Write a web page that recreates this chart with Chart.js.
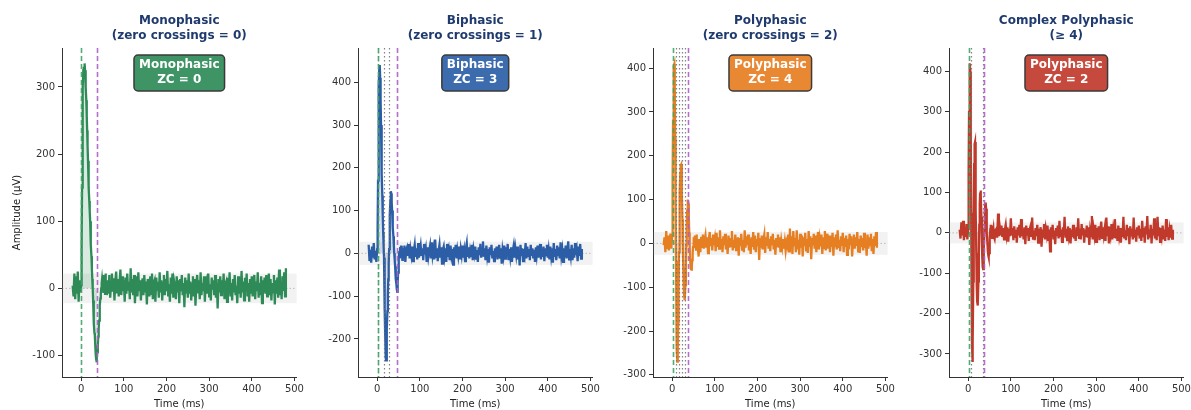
<!DOCTYPE html>
<html>
<head>
<meta charset="utf-8">
<script src="https://cdn.jsdelivr.net/npm/chart.js@4.4.0/dist/chart.umd.min.js"></script>
<style>
	html, body { margin: 0; padding: 0; background: #fff; width: 1191px; height: 410px; overflow: hidden; }
	.panel { position: absolute; top: 0; width: 306px; height: 410px; }
</style>
</head>
<body>
<div class="panel" style="left:0px"><canvas id="c0" width="306" height="410"></canvas></div>
<div class="panel" style="left:296px"><canvas id="c1" width="306" height="410"></canvas></div>
<div class="panel" style="left:591px"><canvas id="c2" width="306" height="410"></canvas></div>
<div class="panel" style="left:887px"><canvas id="c3" width="306" height="410"></canvas></div>
<script>
// titles and annotation text
const titles = [
	['Monophasic', '(zero crossings = 0)'],
	['Biphasic', '(zero crossings = 1)'],
	['Polyphasic', '(zero crossings = 2)'],
	['Complex Polyphasic', '(\u2265 4)'],
]
const boxLabels = ['Monophasic', 'Biphasic', 'Polyphasic', 'Polyphasic']
const zcCounts = [0, 3, 4, 2]

// tick labels
const xTicks = [0, 100, 200, 300, 400, 500]
const yTicks = [
	[-100, 0, 100, 200, 300],
	[-200, -100, 0, 100, 200, 300, 400],
	[-300, -200, -100, 0, 100, 200, 300, 400],
	[-300, -200, -100, 0, 100, 200, 300, 400],
]

// MUAP onset / end and zero-crossing markers (ms), noise threshold (uV)
const onsets = [0, 2, 3, 2]
const ends = [38, 46, 37, 38]
const zcLines = [[], [3, 16, 28], [8, 16, 23, 31], [7, 34]]
const thresholds = [22, 27, 26, 26]

// amplitude (uV): pre = -20..-2 ms step 2, spike = 0..60 ms step 1, post = 62..480 ms step 2
const monoPre = [4, -12, 22, -16, 18, -8, 25, -20, 12, -6]
const monoSpike = [5, 60, 150, 240, 300, 325, 330, 320, 335, 325, 315, 300, 280, 258, 235, 212, 190, 170, 150, 130, 115, 100, 82, 65, 48, 30, 14, 0, -18, -35, -52, -66, -70, -85, -98, -105, -110, -100, -95, -85, -72, -60, -48, -36, -25, -15, -8, 0, 8, 14, 5, 18, -5, 20, 2, 15, -8, 22, 0, 12, -10]
const monoPost = [
	12, -8, 20, -14, 6, 22, -5, 15, -18, 10, 25, -6, 14, -12, 8, 28, -10, 18, -4, 12, -20,
	16, -8, 22, -2, 10, -16, 30, -6, 14, -10, 20, -22, 8, 18, -12, 24, -4, 12, -18, 6, 15,
	-10, 20, -6, 10, -24, 14, 4, -12, 18, -8, 22, -16, 8, 12, -20, 16, -2, 10, -14, 24, -6,
	12, -18, 8, 20, -10, 14, -4, 26, -12, 6, -20, 16, -8, 22, -14, 10, 2, -16, 18, -6, 12,
	-22, 14, -4, 20, -10, 8, -28, 16, -6, 12, -14, 22, -8, 10, -18, 6, 18, -12, 14, -26, 8,
	20, -6, 12, -16, 24, -10, 8, -4, 18, -20, 10, 14, -8, 22, -12, 6, -18, 16, -2, 12, -10,
	20, -14, 8, -30, 14, -6, 18, -10, 12, -4, 22, -16, 6, 10, -20, 16, -8, 24, -12, 8, -18,
	14, -6, 20, -10, 4, -22, 18, -8, 12, -14, 26, -6, 10, -18, 16, -4, 22, -12, 8, -20, 14,
	-8, 18, -12, 6, 20, -16, 10, -4, 24, -14, 8, -10, 18, -22, 12, -6, 16, -8, 20, -12, 6,
	22, -10, 14, -18, 8, -6, 20, -24, 12, -8, 16, -14, 28, -10, 6, -16, 18, -4, 24, -12, 30,
]

const biPre = [20, -18, 8, -22, 16, -10, 24, -14, 6, -20]
const biSpike = [10, 60, 170, 290, 390, 435, 440, 410, 360, 300, 240, 185, 135, 90, 50, 20, -10, -60, -130, -200, -245, -250, -215, -175, -135, -95, -60, -25, 10, 50, 90, 125, 145, 140, 120, 100, 80, 60, 40, 20, 0, -15, -30, -45, -60, -72, -84, -90, -70, -45, -25, -10, 5, -12, 15, -5, 18, -8, 10, -15, 12]
const biPost = [
	-10, 18, -20, 8, 14, -6, 22, -12, 10, -4, 16, -18, 6, 20, -8, 12, -14, 24, -10, 4, 18,
	-6, 12, -16, 22, -2, 10, -20, 14, -8, 6, 18, -12, 26, -4, 10, -14, 32, -8, 12, -18, 6,
	20, -10, 14, -24, 8, 16, -6, 12, -20, 22, -8, 6, -16, 18, -4, 10, -26, 14, -8, 20, -12,
	8, -6, 16, -14, 10, -4, 18, -10, 6, -18, 12, 24, -8, 14, -12, 6, -6, 20, -16, 10, -2,
	16, -12, 8, -20, 14, -4, 22, -10, 6, 28, -8, 12, -16, 18, -6, 10, -22, 14, -4, 20, -12,
	6, -18, 12, -8, 16, -14, 4, 20, -10, 12, -24, 8, -6, 18, -12, 14, -4, 22, -16, 10, -8,
	14, -20, 6, 18, -10, 12, -4, 16, -14, 8, -28, 20, -6, 12, -18, 10, -2, 24, -12, 16, -8,
	10, -16, 20, -6, 12, -12, 8, -20, 14, -4, 18, -10, 6, 22, -14, 10, -8, 16, -18, 12, -4,
	20, -10, 8, -14, 16, -6, 12, -22, 24, -8, 10, -16, 18, -4, 14, -12, 26, -6, 8, -20, 12,
	-8, 18, -12, 6, 28, -14, 10, -6, 20, -16, 12, -10, 24, -4, 8, -18, 16, -6, 22, -12, 10,
]

const polyPre = [-4, 14, -20, 28, -10, 18, -16, 6, 22, -12]
const polySpike = [20, 150, 280, 370, 405, 410, 360, 240, 100, -40, -160, -240, -270, -250, -180, -100, -20, 50, 115, 160, 178, 180, 165, 115, 55, -5, -55, -95, -118, -130, -125, -95, -50, -5, 40, 75, 95, 100, 90, 60, 25, -10, -35, -50, -58, -60, -52, -38, -22, -8, 5, 14, -6, 18, -2, 12, -14, 20, -4, 10, -8]
const polyPost = [
	-30, 10, -20, 15, -8, 20, -12, 6, 18, -10, 14, -22, 8, 26, -6, 12, -16, 20, -4, 10, -18,
	24, -8, 14, -12, 30, -6, 10, -20, 16, -4, 22, -14, 8, -24, 18, -10, 12, -6, 28, -16, 8,
	-10, 20, -18, 6, 14, -28, 12, -6, 22, -14, 8, -20, 30, -10, 16, -4, 20, -16, 10, -24, 14,
	-8, 26, -12, 18, -20, 10, -6, 24, -38, 12, -10, 18, -14, 8, 20, -22, 14, -6, 26, -12, 10,
	-18, 16, -4, 22, -14, 8, -26, 12, -6, 20, -10, 14, -20, 6, -8, 10, -12, 4, -16, 2, -6,
	20, -18, 34, -10, 16, -24, 28, -6, 12, -20, 30, -14, 8, -26, 22, -10, 18, -30, 14, -6, 24,
	-16, 10, -22, 28, -8, 16, -36, 12, -4, 22, -12, 18, -20, 8, 26, -14, 10, -6, 20, -24, 14,
	-10, 28, -16, 6, 22, -12, 18, -20, 10, -8, 24, -28, 14, -6, 20, -14, 30, -10, 8, -18, 16,
	-6, 24, -20, 12, -8, 18, -26, 10, -14, 22, -4, 16, -30, 8, 20, -12, 14, -6, 26, -18, 10,
	-22, 18, -8, 12, -16, 24, -10, 6, -28, 20, -12, 14, -4, 22, -18, 10, -24, 16, -6, 26, -10,
]

const complexPre = [8, -14, 26, -6, 30, -18, 12, -10, 22, -16]
const complexSpike = [10, 150, 300, 390, 420, 400, 250, 50, -150, -280, -320, -270, -120, 50, 170, 220, 225, 170, 60, -50, -130, -170, -180, -175, -120, -50, 20, 70, 100, 105, 90, 40, -20, -60, -85, -90, -80, -40, 10, 50, 72, 75, 60, 30, 0, -25, -45, -55, -60, -50, -30, -10, 10, 20, -5, 15, -12, 18, 0, 10, -8]
const complexPost = [
	-15, 6, 10, -12, 48, -8, 14, -6, 18, -10, 12, -16, 8, 20, -4, 14, -22, 10, -8, 36, -6,
	12, -18, 16, -10, 8, -24, 14, -6, 20, -12, 34, -8, 10, -16, 14, -28, 18, -4, 12, -20, 8,
	16, -10, 38, -14, 6, -18, 12, -8, 20, -24, 10, -6, 14, -34, 8, -12, 22, -16, 10, -4, 18,
	-20, 8, -46, 14, -10, 20, -16, 6, -28, 12, -8, 18, -14, 30, -10, 8, -22, 14, -6, 40, -12,
	10, -18, 16, -6, 12, -26, 8, -10, 20, -14, 6, -20, 14, -8, 36, -12, 10, -16, 22, -6, 12,
	-24, 8, -10, 18, -12, 14, -30, 6, -8, 42, -16, 10, -6, 20, -22, 12, -10, 16, -18, 8, 28,
	-12, 14, -6, 10, -20, 38, -8, 16, -26, 12, -4, 22, -16, 8, -10, 34, -14, 10, -20, 18, -6,
	12, -24, 8, -10, 40, -14, 6, -18, 20, -8, 12, -28, 16, -6, 10, -16, 38, -12, 8, -22, 14,
	-6, 18, -14, 10, -20, 30, -8, 12, -24, 16, -4, 42, -16, 8, -12, 20, -26, 10, -6, 36, -14,
	10, -18, 40, -8, 14, -22, 12, -6, 18, -16, 8, -20, 34, -10, 14, -18, 6, -12, 20, -14, 8,
]

// sample times matching the three segments above
const times = []
for (let t = -20; t < 0; t += 2) times.push(t)
for (let t = 0; t <= 60; t++) times.push(t)
for (let t = 62; t <= 480; t += 2) times.push(t)

const series = [
	monoPre.concat(monoSpike, monoPost),
	biPre.concat(biSpike, biPost),
	polyPre.concat(polySpike, polyPost),
	complexPre.concat(complexSpike, complexPost),
]

const colors = ['46,139,87', '43,94,167', '230,126,34', '192,57,43']
const yRanges = [[-132, 358], [-289, 480], [-305, 446], [-357, 458]]

const FONT = "'DejaVu Sans', sans-serif"

const decor = {
	id: 'decor',
	beforeDatasetsDraw(chart, args, o) {
		const { ctx, chartArea: a, scales: { y } } = chart
		ctx.save()
		const yt = y.getPixelForValue(o.band)
		const yb = y.getPixelForValue(-o.band)
		ctx.fillStyle = 'rgba(150,150,150,0.12)'
		ctx.fillRect(a.left, yt, a.right - a.left, yb - yt)
		const y0 = y.getPixelForValue(0)
		ctx.strokeStyle = 'rgba(140,140,140,0.7)'
		ctx.lineWidth = 0.8
		ctx.setLineDash([1.5, 2])
		ctx.beginPath()
		ctx.moveTo(a.left, y0)
		ctx.lineTo(a.right, y0)
		ctx.stroke()
		ctx.restore()
	},
	afterDatasetsDraw(chart, args, o) {
		const { ctx, chartArea: a, scales: { x } } = chart
		const vline = (t, color, dash, w) => {
			const px = Math.round(x.getPixelForValue(t)) + 0.5
			ctx.strokeStyle = color
			ctx.lineWidth = w
			ctx.setLineDash(dash)
			ctx.beginPath()
			ctx.moveTo(px, a.top)
			ctx.lineTo(px, a.bottom)
			ctx.stroke()
		}
		ctx.save()
		o.zc.forEach((t) => vline(t, 'rgba(110,110,110,0.85)', [1.5, 2.5], 1.2))
		vline(o.onset, 'rgba(60,165,100,0.9)', [5, 3], 1.6)
		vline(o.end, 'rgba(175,95,200,0.9)', [5, 3], 1.6)
		ctx.restore()
	},
	afterDraw(chart, args, o) {
		const { ctx, chartArea: a } = chart
		const cx = (a.left + a.right) / 2
		ctx.save()
		ctx.textAlign = 'center'
		ctx.textBaseline = 'middle'
		ctx.font = 'bold 12px ' + FONT
		ctx.fillStyle = '#1f3a6e'
		ctx.fillText(o.title[0], cx, 21)
		ctx.fillText(o.title[1], cx, 36)

		const lines = [o.label, 'ZC = ' + o.zcCount]
		const w = Math.max(...lines.map((s) => ctx.measureText(s).width)) + 10
		const h = 36
		const top = a.top + 7
		ctx.beginPath()
		ctx.roundRect(cx - w / 2, top, w, h, 4)
		ctx.fillStyle = 'rgba(' + o.color + ',0.92)'
		ctx.fill()
		ctx.lineWidth = 1.5
		ctx.strokeStyle = '#3a3a3a'
		ctx.stroke()
		ctx.fillStyle = '#ffffff'
		ctx.fillText(lines[0], cx, top + 10)
		ctx.fillText(lines[1], cx, top + 25)
		ctx.restore()
	},
}

series.forEach((vals, i) => {
	const pts = times.map((t, k) => ({ x: t, y: vals[k] }))
	const muap = pts.filter((p) => p.x >= onsets[i] && p.x <= ends[i])
	const ctx = document.getElementById('c' + i).getContext('2d')

	new Chart(ctx, {
		type: 'line',
		data: {
			datasets: [
				{
					data: pts,
					borderColor: 'rgb(' + colors[i] + ')',
					borderWidth: 2.3,
					pointRadius: 0,
					tension: 0,
					fill: false,
					order: 1,
				},
				{
					data: muap,
					borderWidth: 0,
					pointRadius: 0,
					backgroundColor: 'rgba(' + colors[i] + ',0.18)',
					fill: 'origin',
					order: 2,
				},
			],
		},
		options: {
			responsive: false,
			animation: false,
			events: [],
			layout: { padding: { top: 48, right: 4, left: 0, bottom: 0 } },
			plugins: {
				legend: { display: false },
				tooltip: { enabled: false },
				decor: {
					title: titles[i],
					label: boxLabels[i],
					zcCount: zcCounts[i],
					color: colors[i],
					band: thresholds[i],
					onset: onsets[i],
					end: ends[i],
					zc: zcLines[i],
				},
			},
			scales: {
				x: {
					type: 'linear',
					min: -45,
					max: 505,
					afterBuildTicks: (s) => { s.ticks = xTicks.map((v) => ({ value: v })) },
					afterFit: (s) => { s.height = 33 },
					grid: { drawOnChartArea: false, tickLength: 4, color: '#333' },
					border: { color: '#333', width: 1 },
					ticks: { font: { family: FONT, size: 10 }, color: '#333', padding: 2, maxRotation: 0 },
					title: { display: true, text: 'Time (ms)', font: { family: FONT, size: 10 }, color: '#222', padding: { top: 0, bottom: 0 } },
				},
				y: {
					type: 'linear',
					min: yRanges[i][0],
					max: yRanges[i][1],
					afterBuildTicks: (s) => { s.ticks = yTicks[i].map((v) => ({ value: v })) },
					afterFit: (s) => { s.width = 62 },
					grid: { drawOnChartArea: false, tickLength: 4, color: '#333' },
					border: { color: '#333', width: 1 },
					ticks: { font: { family: FONT, size: 10 }, color: '#333', padding: 3 },
					title: { display: i === 0, text: 'Amplitude (\u00b5V)', font: { family: FONT, size: 10 }, color: '#222', padding: { top: 11, bottom: 0 } },
				},
			},
		},
		plugins: [decor],
	})
})
</script>
</body>
</html>
